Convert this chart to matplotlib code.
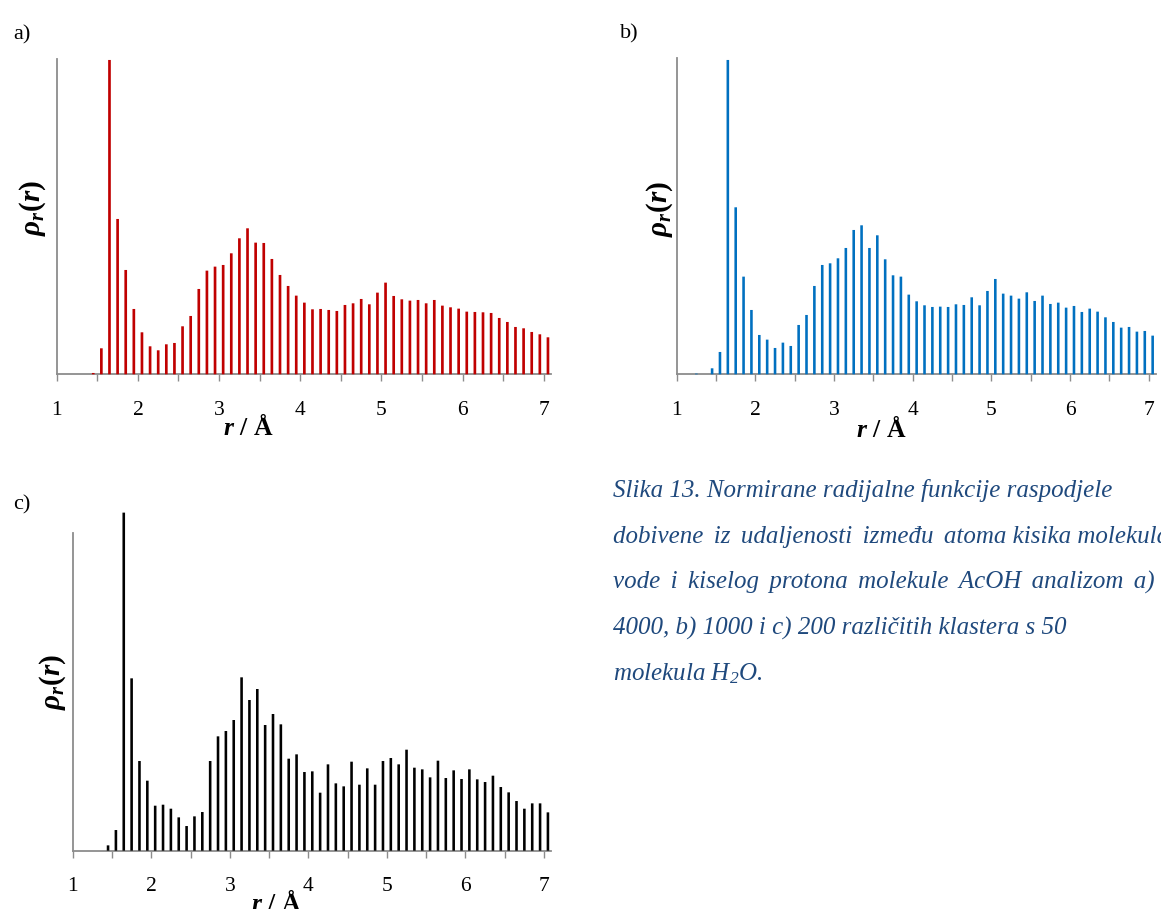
import matplotlib.pyplot as plt

plt.rcParams['font.family'] = ['Liberation Serif', 'DejaVu Serif']
plt.rcParams['mathtext.fontset'] = 'custom'
plt.rcParams['mathtext.rm'] = 'Liberation Serif:bold'
plt.rcParams['mathtext.it'] = 'Liberation Serif:italic:bold'
plt.rcParams['mathtext.bf'] = 'Liberation Serif:bold'
plt.rcParams['mathtext.sf'] = 'Liberation Serif:italic'

# bin centres (Angstrom)
r_a = [1.45, 1.55, 1.65, 1.75, 1.85, 1.95,
       2.05, 2.15, 2.25, 2.35, 2.45, 2.55, 2.65, 2.75, 2.85, 2.95,
       3.05, 3.15, 3.25, 3.35, 3.45, 3.55, 3.65, 3.75, 3.85, 3.95,
       4.05, 4.15, 4.25, 4.35, 4.45, 4.55, 4.65, 4.75, 4.85, 4.95,
       5.05, 5.15, 5.25, 5.35, 5.45, 5.55, 5.65, 5.75, 5.85, 5.95,
       6.05, 6.15, 6.25, 6.35, 6.45, 6.55, 6.65, 6.75, 6.85, 6.95,
       7.05]
r_b = [1.25, 1.35] + r_a
r_c = r_a

# relative heights
rho_a = [4, 78, 943, 466, 313, 196,
         126, 84, 72, 90, 94, 144, 175, 256, 311, 323,
         328, 363, 408, 438, 395, 394, 346, 298, 265, 236,
         215, 195, 196, 193, 190, 208, 213, 226, 210, 245,
         275, 235, 225, 221, 223, 213, 223, 206, 201, 197,
         188, 187, 186, 184, 169, 157, 142, 138, 127, 120,
         111]
rho_b = [2, 0, 18, 67, 943, 501, 293, 193,
         118, 104, 79, 95, 85, 148, 178, 265, 328, 333,
         348, 379, 433, 447, 379, 417, 345, 297, 293, 239,
         219, 207, 202, 203, 202, 210, 208, 231, 207, 250,
         286, 242, 236, 227, 246, 220, 236, 211, 215, 200,
         205, 187, 197, 188, 171, 157, 140, 142, 128, 130,
         116]
rho_c = [16, 62, 1014, 517, 269, 210,
         135, 138, 126, 100, 74, 103, 116, 269, 343, 359,
         392, 520, 452, 485, 377, 410, 379, 276, 289, 236,
         238, 174, 259, 202, 193, 267, 198, 247, 198, 269,
         278, 259, 303, 249, 244, 220, 270, 218, 241, 215,
         244, 214, 206, 225, 191, 175, 149, 126, 142, 142,
         115]

# lines 2 and 3 are set a little wider in the original (justified)
WIDE = ' \u2006'
caption_lines = [
    "Slika 13. Normirane radijalne funkcije raspodjele",
    "dobivene iz udaljenosti između atoma kisika molekula".replace(' ', WIDE, 4),
    "vode i kiselog protona molekule AcOH analizom a)".replace(' ', WIDE),
    "4000, b) 1000 i c) 200 različitih klastera s 50",
    "molekula H$_\\mathsf{2}$O.",
]

W, H = 1161, 909
AXIS_GRAY = '#8c8c8c'
ticks = [1 + 0.5 * i for i in range(13)]
tick_labels = [str(int(t)) if t == int(t) else '' for t in ticks]

fig = plt.figure(figsize=(W / 100, H / 100), dpi=100)


def add_panel(left, top, bottom, unit, r, rho, color, ytop):
    right = left + 6.09 * unit
    ax = fig.add_axes([left / W, 1 - bottom / H, (right - left) / W, (bottom - top) / H])
    ax.bar(r, rho, width=0.033, color=color, clip_on=False, zorder=3, snap=False,
           linewidth=0)
    ax.set_xlim(1, 7.09)
    ax.set_ylim(0, ytop)
    for side in ['top', 'right']:
        ax.spines[side].set_visible(False)
    for side in ['left', 'bottom']:
        ax.spines[side].set_color(AXIS_GRAY)
        ax.spines[side].set_linewidth(1.3)
    ax.set_yticks([])
    ax.set_xticks(ticks)
    ax.set_xticklabels(tick_labels)
    ax.tick_params(axis='x', direction='out', length=5, width=1, color=AXIS_GRAY,
                   pad=14, labelsize=15.5, labelcolor='black')
    return ax


def ftext(x, y, s, **kw):
    fig.text(x / W, 1 - y / H, s, **kw)


add_panel(56.7, 59.3, 374.3, 81.2, r_a, rho_a, '#c00000', 945)
add_panel(676.7, 58.3, 374.3, 78.67, r_b, rho_b, '#0070c0', 948)
add_panel(72.7, 533.3, 850.7, 78.55, r_c, rho_c, 'black', 952)

# panel letters
ftext(13, 39, 'a)', fontsize=16)
ftext(620, 38, 'b)', fontsize=16)
ftext(13, 509, 'c)', fontsize=16)

# axis titles
ylab = r'$\rho_r(r)$'
ftext(33, 208, ylab, fontsize=21, rotation=90, ha='center', va='center')
ftext(660, 209, ylab, fontsize=21, rotation=90, ha='center', va='center')
ftext(53, 682, ylab, fontsize=21, rotation=90, ha='center', va='center')

xlab = '$r$ / Å'
ftext(248.5, 435, xlab, fontsize=18.5, fontweight='bold', ha='center', va='baseline')
ftext(881, 437, xlab, fontsize=18.5, fontweight='bold', ha='center', va='baseline')
ftext(276.5, 911, xlab, fontsize=18.5, fontweight='bold', ha='center', va='baseline')

# caption
for i, line in enumerate(caption_lines):
    ftext(612.7, 496.7 + 46 * i, line, fontsize=18, style='italic',
          color='#1f497d', va='baseline')

fig.savefig('out.png', dpi=100)
